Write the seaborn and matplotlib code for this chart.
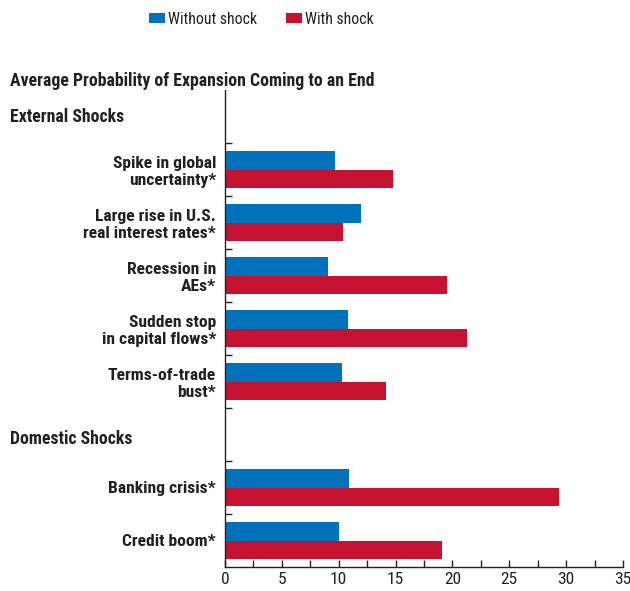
import matplotlib
matplotlib.use("Agg")
import matplotlib.pyplot as plt
import seaborn as sns
import pandas as pd
from matplotlib.ticker import MultipleLocator, FixedLocator
from matplotlib.patches import Patch

# ---- data ----
categories = [
    "Spike in global\nuncertainty*",
    "Large rise in U.S.\nreal interest rates*",
    "Recession in\nAEs*",
    "Sudden stop\nin capital flows*",
    "Terms-of-trade\nbust*",
    "Banking crisis*",
    "Credit boom*",
]
without_shock = [9.7, 12.0, 9.1, 10.8, 10.3, 10.9, 10.0]
with_shock = [14.8, 10.4, 19.5, 21.3, 14.2, 29.4, 19.1]
series = ["Without shock", "With shock"]
group_headers = ["External Shocks", "Domestic Shocks"]
title = "Average Probability of Expansion Coming to an End"
x_ticks = [0, 5, 10, 15, 20, 25, 30, 35]

colors = {"Without shock": "#0072BC", "With shock": "#C41230"}
TXT = "#231F20"

sns.set_style("white")
plt.rcParams["font.family"] = ["Roboto Condensed", "DejaVu Sans"]

df = pd.DataFrame({
    "category": categories * 2,
    "value": without_shock + with_shock,
    "series": [series[0]] * len(categories) + [series[1]] * len(categories),
})

# slots: header, 5 external, header, 2 domestic
order = [" "] + categories[:5] + ["  "] + categories[5:]

fig = plt.figure(figsize=(6.3, 5.91), dpi=100)
ax = fig.add_axes([225 / 630, 1 - 567 / 591, (623 - 225) / 630, (567 - 90) / 591])

sns.barplot(data=df, y="category", x="value", hue="series", order=order,
            hue_order=series, palette=colors, saturation=1, orient="h", width=0.68,
            errorbar=None, linewidth=0, ax=ax, legend=False)

ax.set_xlim(0, 35)
ax.set_ylim(len(order) - 0.5, -0.5)
ax.set_xlabel("")
ax.set_ylabel("")

for s in ["top", "right"]:
    ax.spines[s].set_visible(False)
for s in ["left", "bottom"]:
    ax.spines[s].set_color("#222222")
    ax.spines[s].set_linewidth(1.0)

ax.xaxis.set_major_locator(FixedLocator(x_ticks))
ax.xaxis.set_minor_locator(MultipleLocator(2.5))
ax.set_xticklabels([str(t) for t in x_ticks])
ax.tick_params(axis="x", which="both", direction="in", length=5, width=1,
               color="#222222", labelsize=12.5, pad=3.5, bottom=True)

ax.yaxis.set_minor_locator(FixedLocator([i + 0.5 for i in range(len(order) - 1)]))
ax.tick_params(axis="y", which="major", length=0, pad=6.5, labelsize=12.6)
ax.tick_params(axis="y", which="minor", direction="in", length=5, width=1,
               color="#222222", left=True)
for lbl in ax.get_yticklabels():
    lbl.set_fontweight("bold")
    lbl.set_color(TXT)
    lbl.set_horizontalalignment("right")
    lbl.set_linespacing(1.2)
for lbl in ax.get_xticklabels():
    lbl.set_color(TXT)

# headers and title
fig.text(10 / 630, 1 - 81 / 591, title, fontsize=12.8, fontweight="bold",
         va="center", ha="left", color=TXT)
fig.text(10 / 630, 1 - 117.5 / 591, group_headers[0], fontsize=12.8, fontweight="bold",
         va="center", ha="left", color=TXT)
fig.text(10 / 630, 1 - 438.5 / 591, group_headers[1], fontsize=12.8, fontweight="bold",
         va="center", ha="left", color=TXT)

handles = [Patch(facecolor=colors[s], edgecolor="none") for s in series]
leg = fig.legend(handles, series, loc="center left", bbox_to_anchor=(149 / 630, 1 - 19 / 591),
                 ncol=2, frameon=False, fontsize=11.3, handlelength=1.0, handleheight=0.6,
                 handletextpad=0.2, columnspacing=1.85, borderaxespad=0, borderpad=0)
for t in leg.get_texts():
    t.set_color(TXT)

fig.savefig("out.png", dpi=100)
